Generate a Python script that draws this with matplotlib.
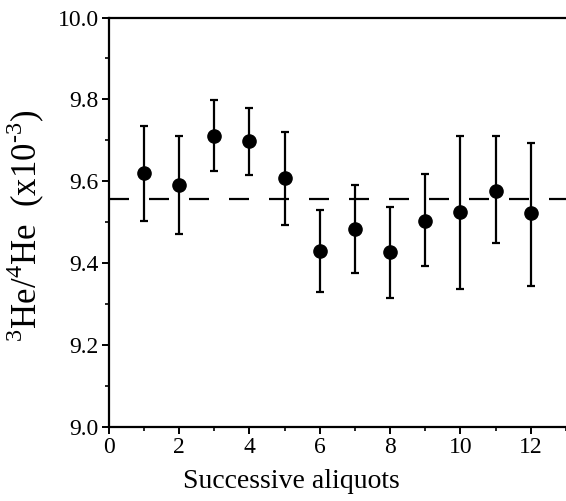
import matplotlib
matplotlib.use("Agg")
import matplotlib.pyplot as plt
from matplotlib.ticker import MultipleLocator, FormatStrFormatter

plt.rcParams["font.family"] = ["Liberation Serif", "DejaVu Serif"]
plt.rcParams["mathtext.fontset"] = "custom"
plt.rcParams["mathtext.rm"] = "Liberation Serif"
plt.rcParams["lines.scale_dashes"] = False

# aliquot number, ratio (x10^-3), upper and lower error bar ends
aliquot = [1, 2, 3, 4, 5, 6, 7, 8, 9, 10, 11, 12]
ratio = [9.621, 9.591, 9.710, 9.698, 9.609, 9.430, 9.483, 9.427, 9.504, 9.524, 9.577, 9.522]
upper = [9.736, 9.710, 9.798, 9.780, 9.720, 9.530, 9.590, 9.537, 9.617, 9.710, 9.710, 9.693]
lower = [9.504, 9.471, 9.624, 9.615, 9.492, 9.329, 9.376, 9.316, 9.393, 9.337, 9.449, 9.345]
mean_ratio = 9.557

err_lo = [r - l for r, l in zip(ratio, lower)]
err_hi = [u - r for r, u in zip(ratio, upper)]

fig = plt.figure(figsize=(5.66, 5.01), dpi=100)
ax = fig.add_axes([0.192, 0.148, 0.808, 0.817])

ax.axhline(mean_ratio, color="black", lw=1.6, dashes=(14.4, 14.4))
ax.errorbar(aliquot, ratio, yerr=[err_lo, err_hi], fmt="o", color="black",
            markersize=9.5, elinewidth=1.6, capsize=3, capthick=1.6)

ax.set_xlim(0, 13)
ax.set_ylim(9.0, 10.0)
ax.xaxis.set_major_locator(MultipleLocator(2))
ax.xaxis.set_minor_locator(MultipleLocator(1))
ax.yaxis.set_major_locator(MultipleLocator(0.2))
ax.yaxis.set_minor_locator(MultipleLocator(0.1))
ax.yaxis.set_major_formatter(FormatStrFormatter("%.1f"))

ax.spines["right"].set_visible(False)
for s in ["left", "bottom", "top"]:
    ax.spines[s].set_linewidth(1.6)
ax.tick_params(which="major", length=5, width=1.4, labelsize=17, pad=2)
ax.tick_params(which="minor", length=3, width=1.2)

ax.set_xlabel("Successive aliquots", fontsize=20, labelpad=8)
ax.xaxis.label.set_x(0.40)
ax.set_ylabel(r"$^{3}$He/$^{4}$He  (x10$^{\text{-}3}$)", fontsize=25)
ax.yaxis.set_label_coords(-0.134, 0.49)

fig.savefig("out.png", dpi=100)
